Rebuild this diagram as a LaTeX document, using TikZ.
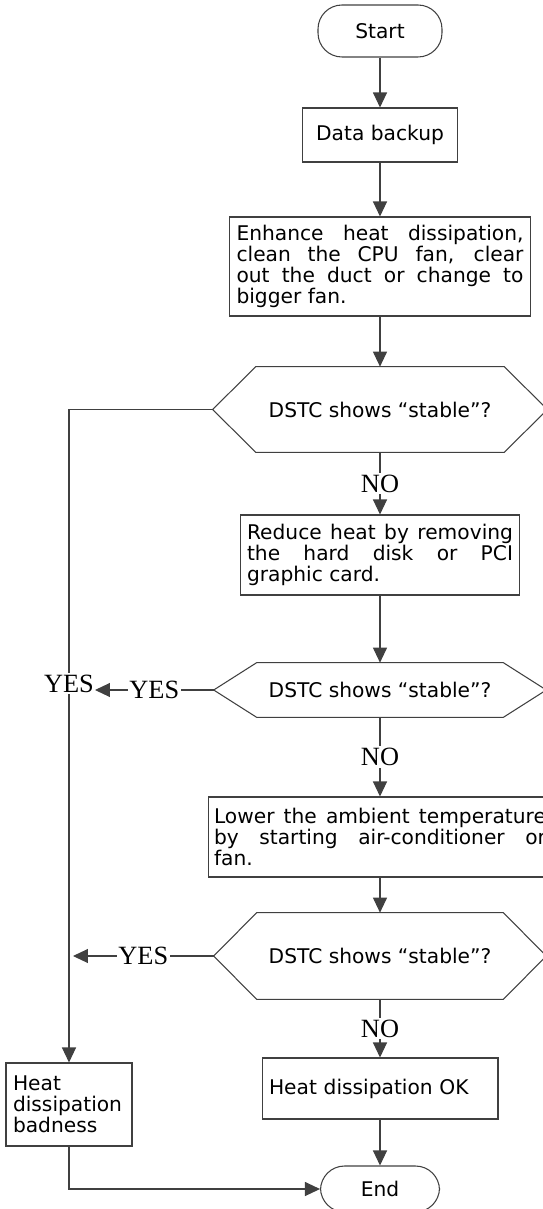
\documentclass[tikz,border=0pt]{standalone}
\usepackage{fontspec}
\usepackage{tikz}
\usetikzlibrary{calc,arrows.meta}
\newfontfamily\boxfont{DejaVu Sans}
\newfontfamily\labfont{Liberation Serif}
\def\hexframe(#1){\draw[line] (#1.west) -- ($(#1.north west)+(43,0)$) -- ($(#1.north east)+(-43,0)$) -- (#1.east) -- ($(#1.south east)+(-43,0)$) -- ($(#1.south west)+(43,0)$) -- cycle;}

\tikzset{
	line/.style={draw=black!75, line width=0.6pt},
	arrow/.style={line, -{Triangle[length=0.3cm, width=0.28cm]}},
	box/.style={line, rectangle, inner sep=0pt, font=\boxfont\fontsize{11.5}{12.1}\selectfont},
	term/.style={box, rounded corners=0.48cm},
	hexbox/.style={rectangle, inner sep=0pt, font=\boxfont\fontsize{11.5}{12.1}\selectfont},
	lab/.style={fill=white, inner sep=1pt, font=\labfont\fontsize{15}{15}\selectfont}
}

\begin{document}
\begin{tikzpicture}[x=0.02cm, y=-0.02cm]
		%%%%% START %%%%%
		\useasboundingbox (0, 0) rectangle (543, 1209);
		
		\node[term, minimum width=2.48cm, minimum height=1.04cm] (start) at (380, 31) {Start};
		\node[box, minimum width=3.1cm, minimum height=1.08cm] (backup) at (380, 135) {Data backup};
		\node[box, minimum width=6.02cm, minimum height=1.98cm, text width=5.74cm, align=justify] (enhance) at (380, 266.5)
			{Enhance heat dissipation,\linebreak clean the CPU fan, clear\linebreak out the duct or change to\linebreak bigger fan.};
		
		\node[hexbox, minimum width=6.68cm, minimum height=1.7cm] (dec1) at (380, 409.5) {DSTC shows “stable”?};
		\hexframe(dec1)
		
		\node[box, minimum width=5.58cm, minimum height=1.6cm, text width=5.32cm, align=justify] (reduce) at (380, 555)
			{Reduce heat by removing\linebreak the hard disk or PCI\linebreak graphic card.};
		
		\node[hexbox, minimum width=6.64cm, minimum height=1.08cm] (dec2) at (380, 690) {DSTC shows “stable”?};
		\hexframe(dec2)
		
		\node[box, minimum width=6.88cm, minimum height=1.6cm, text width=6.64cm, align=justify] (lower) at (380, 837)
			{Lower the ambient temperature\linebreak by starting air-conditioner or\linebreak fan.};
		
		\node[hexbox, minimum width=6.64cm, minimum height=1.72cm] (dec3) at (380, 956) {DSTC shows “stable”?};
		\hexframe(dec3)
		
		\node[box, minimum width=4.72cm, minimum height=1.22cm, text width=4.44cm, align=left] (ok) at (380, 1088.5) {Heat dissipation OK};
		\node[term, minimum width=2.38cm, minimum height=0.92cm] (end) at (380, 1189) {End};
		\node[box, minimum width=2.52cm, minimum height=1.66cm, text width=2.24cm, align=left] (bad) at (69, 1104.5)
			{Heat\\dissipation\\badness};
		
		\coordinate (yes2) at (95, 690);
		\coordinate (yes3) at (73, 956);
		
		\draw[arrow] (start) -- (backup);
		\draw[arrow] (backup) -- (enhance);
		\draw[arrow] (enhance) -- (dec1);
		\draw[arrow] (dec1) -- node[lab] {NO} (reduce);
		\draw[arrow] (reduce) -- (dec2);
		\draw[arrow] (dec2) -- node[lab] {NO} (lower);
		\draw[arrow] (lower) -- (dec3);
		\draw[arrow] (dec3) -- node[lab] {NO} (ok);
		\draw[arrow] (ok) -- (end);
		
		\draw[arrow] (dec1.west) -| node[lab, pos=0.71] {YES} (bad.north);
		\draw[arrow] (dec2.west) -- node[lab] {YES} (yes2);
		\draw[arrow] (dec3.west) -- node[lab] {YES} (yes3);
		\draw[arrow] (bad.south) |- (end.west);
		
		%%%%% END %%%%%
	\end{tikzpicture}
\end{document}
